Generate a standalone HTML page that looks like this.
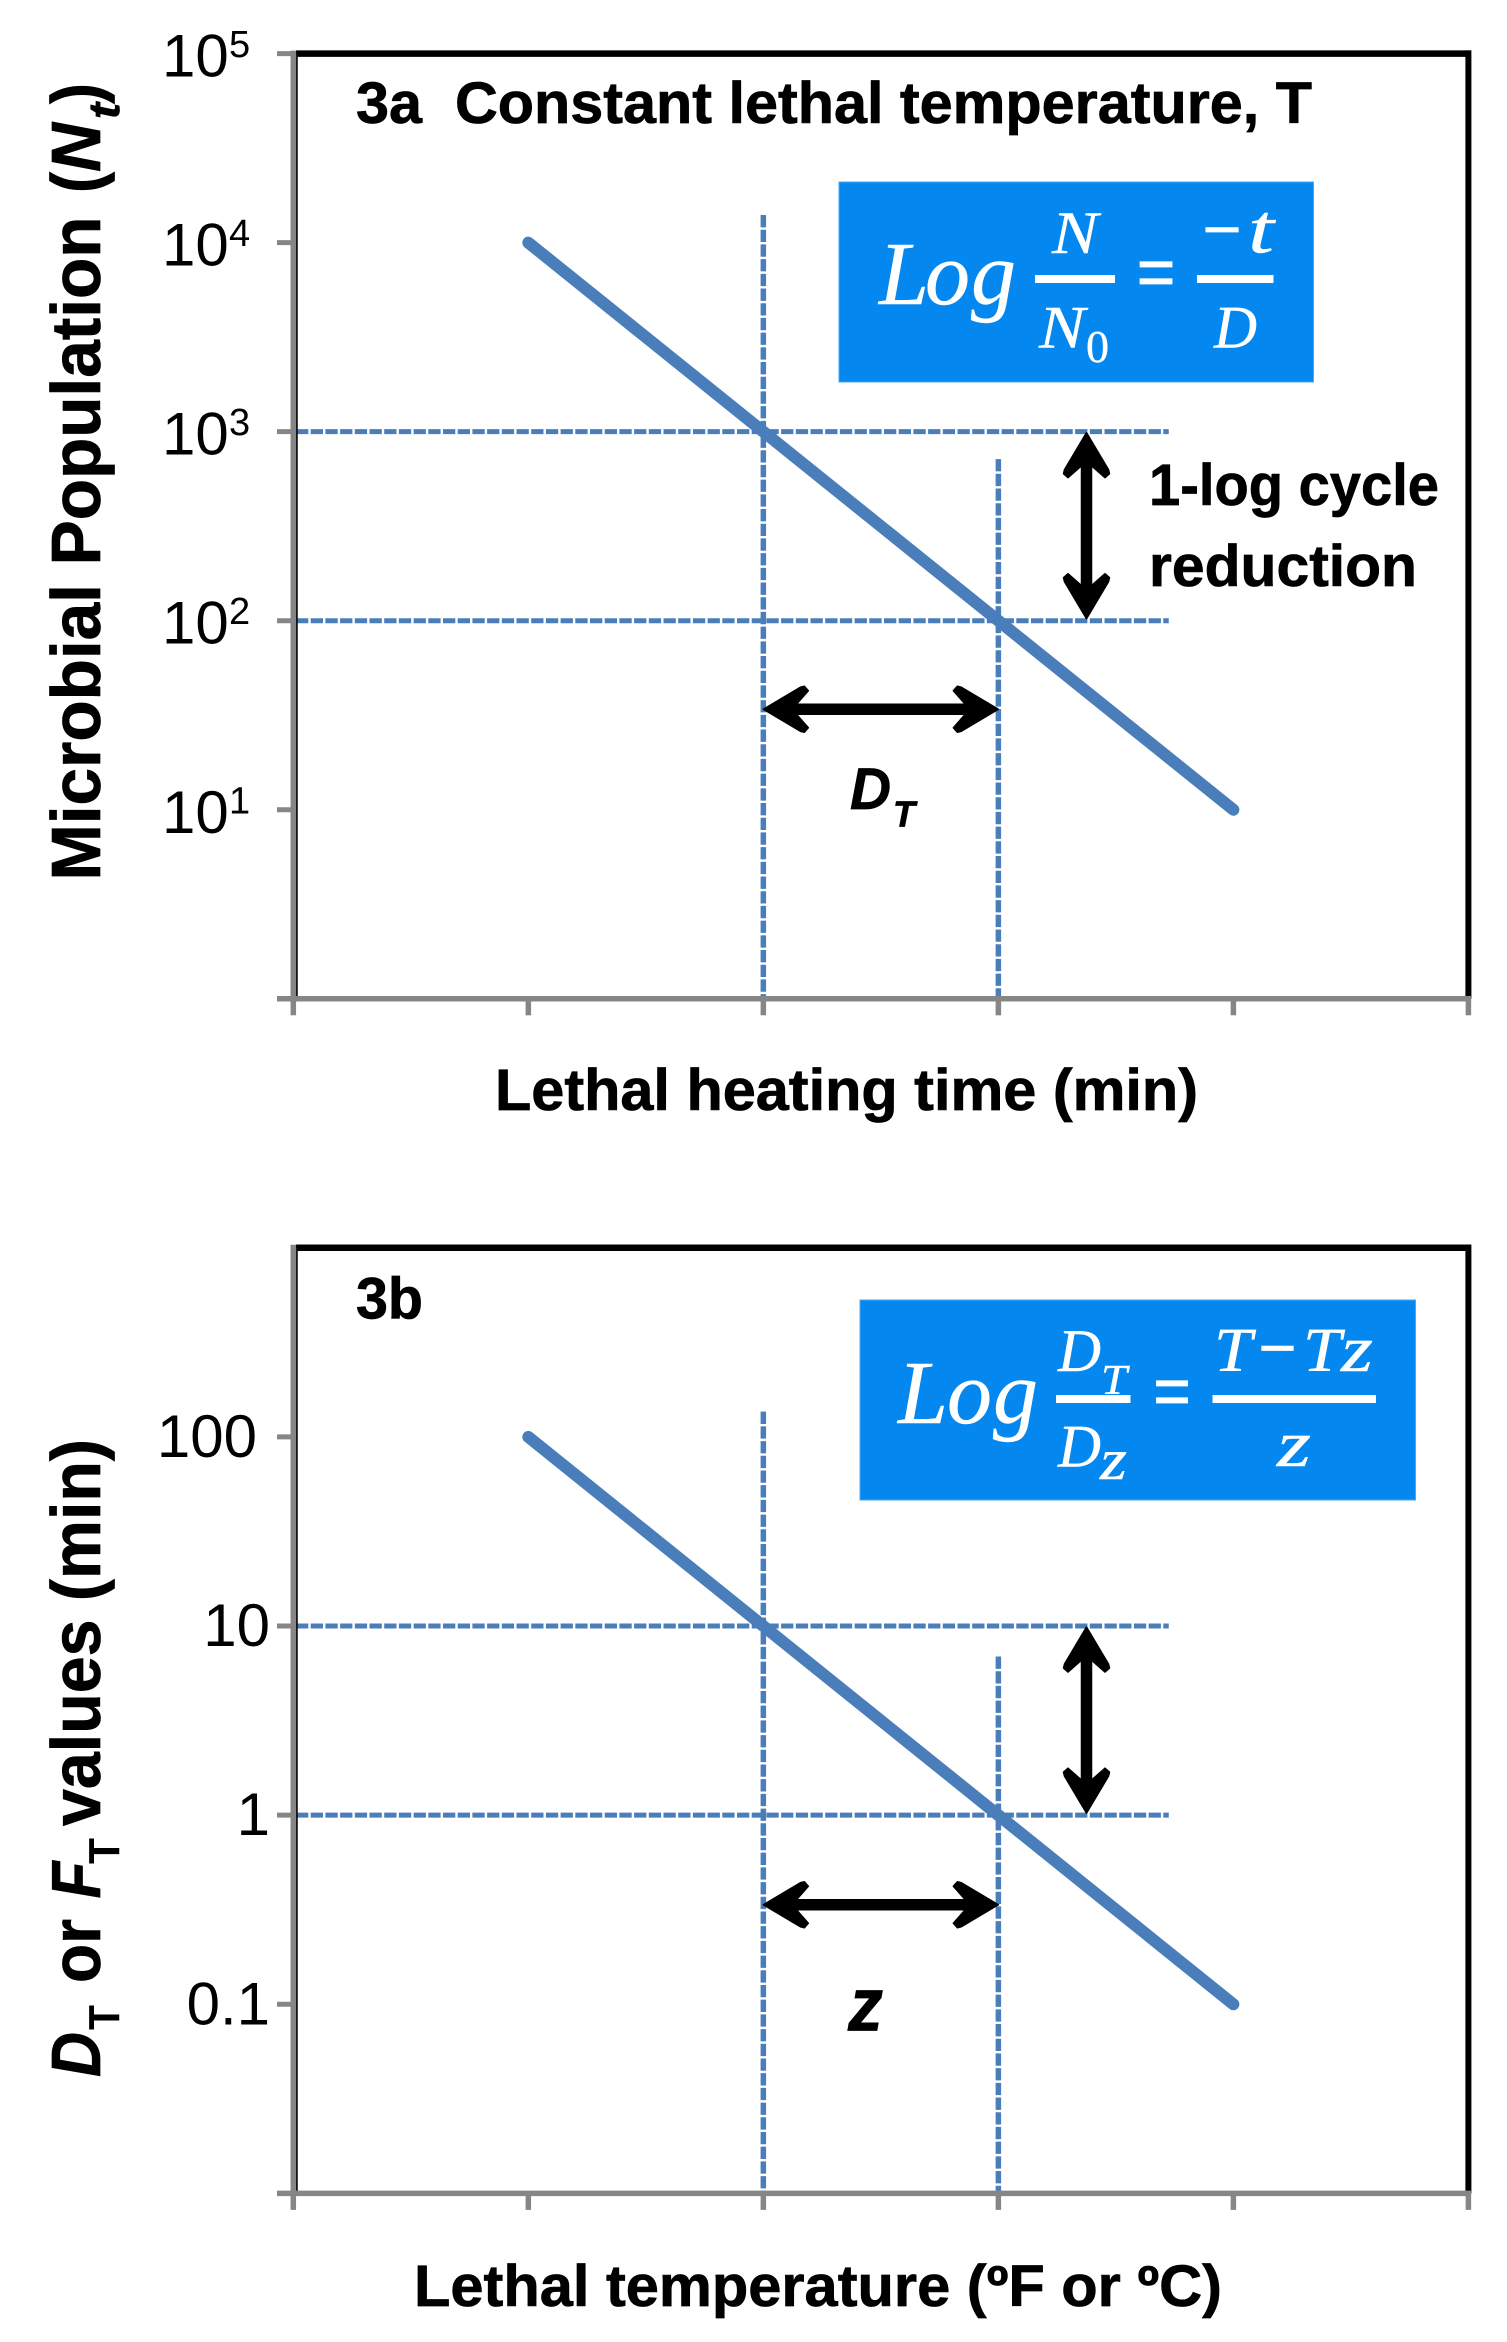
<!DOCTYPE html>
<html lang="en">
<head>
<meta charset="utf-8">
<title>Microbial thermal death time charts</title>
<style>
html,body{margin:0;padding:0;background:#fff;}
svg{display:block;}
.b{font-family:"Liberation Sans",sans-serif;font-weight:bold;fill:#000;stroke:#000;stroke-width:0.7;}
.bi{font-family:"Liberation Sans",sans-serif;font-weight:bold;font-style:italic;fill:#000;stroke:#000;stroke-width:0.7;}
.m{font-family:"Liberation Serif",serif;font-style:italic;fill:#fff;stroke:#fff;stroke-width:0.4;}
.mu{font-family:"Liberation Serif",serif;fill:#fff;stroke:#fff;stroke-width:0.4;}
.mo{font-family:"Liberation Serif",serif;fill:#fff;stroke:#fff;stroke-width:1.8;}
.t{font-family:"Liberation Sans",sans-serif;fill:#000;}
</style>
</head>
<body>
<svg id="chart" xmlns="http://www.w3.org/2000/svg" width="1507" height="2342" viewBox="0 0 1507 2342">
  <rect x="0" y="0" width="1507" height="2342" fill="#fff"/>
  <g id="panel-a"></g>
  <g id="panel-b"></g>

  <!-- Panel 3a text -->
  <text class="b" x="356" y="123" font-size="58" textLength="956" lengthAdjust="spacingAndGlyphs" xml:space="preserve">3a  Constant lethal temperature, T</text>
  <text class="b" x="1149" y="505" font-size="58" textLength="290" lengthAdjust="spacingAndGlyphs">1-log cycle</text>
  <text class="b" x="1149" y="586" font-size="58" textLength="268" lengthAdjust="spacingAndGlyphs">reduction</text>
  <text class="b" x="495" y="1110" font-size="58" textLength="703" lengthAdjust="spacingAndGlyphs">Lethal heating time (min)</text>
  <g transform="rotate(-90)">
    <text class="b" x="-880.5" y="100" font-size="70" textLength="664" lengthAdjust="spacingAndGlyphs">Microbial Population</text>
    <text class="b" x="-193" y="100" font-size="70" textLength="21" lengthAdjust="spacingAndGlyphs">(</text>
    <text class="bi" x="-172" y="100" font-size="70" textLength="49" lengthAdjust="spacingAndGlyphs">N</text>
    <text class="bi" x="-119" y="119" font-size="44" textLength="16" lengthAdjust="spacingAndGlyphs">t</text>
    <text class="b" x="-104" y="100" font-size="70" textLength="21" lengthAdjust="spacingAndGlyphs">)</text>
  </g>
  <text class="bi" x="850" y="809" font-size="58" textLength="41" lengthAdjust="spacingAndGlyphs">D</text>
  <text class="bi" x="893" y="826.5" font-size="36" textLength="22" lengthAdjust="spacingAndGlyphs">T</text>

  <g>
    <rect x="839" y="182" width="474.5" height="200" fill="#0487ef" stroke="#4aa8f5" stroke-width="1"/>
    <text class="m" x="879 925 971" y="304" font-size="90">Log</text>
    <text class="m" x="1052" y="253" font-size="60" textLength="46" lengthAdjust="spacingAndGlyphs">N</text>
    <rect x="1035" y="275" width="80" height="8" fill="#fff"/>
    <text class="m" x="1039" y="347.5" font-size="60" textLength="46" lengthAdjust="spacingAndGlyphs">N</text>
    <text class="mu" x="1086" y="362" font-size="45" textLength="23" lengthAdjust="spacingAndGlyphs">0</text>
    <text class="mo" x="1137" y="301" font-size="85" textLength="38" lengthAdjust="spacingAndGlyphs">=</text>
    <text class="mo" x="1203" y="252.5" font-size="68" textLength="38" lengthAdjust="spacingAndGlyphs">−</text>
    <text class="m" x="1248" y="252.5" font-size="70" textLength="26" lengthAdjust="spacingAndGlyphs">t</text>
    <rect x="1197" y="275" width="76.5" height="8" fill="#fff"/>
    <text class="m" x="1214" y="347.5" font-size="60" textLength="43" lengthAdjust="spacingAndGlyphs">D</text>
  </g>

  <!-- Panel 3b text -->
  <text class="b" x="356" y="1318.5" font-size="58" textLength="67" lengthAdjust="spacingAndGlyphs">3b</text>
  <text class="b" x="414" y="2306" font-size="58" textLength="808" lengthAdjust="spacingAndGlyphs">Lethal temperature (ºF or ºC)</text>
  <g transform="rotate(-90)">
    <text class="bi" x="-2077" y="100" font-size="70" textLength="45" lengthAdjust="spacingAndGlyphs">D</text>
    <text class="t" font-weight="bold" x="-2030" y="119" font-size="44" textLength="25" lengthAdjust="spacingAndGlyphs">T</text>
    <text class="b" x="-1983" y="100" font-size="70" textLength="64" lengthAdjust="spacingAndGlyphs">or</text>
    <text class="bi" x="-1898.5" y="100" font-size="70" textLength="37" lengthAdjust="spacingAndGlyphs">F</text>
    <text class="t" font-weight="bold" x="-1864" y="119" font-size="44" textLength="26" lengthAdjust="spacingAndGlyphs">T</text>
    <text class="b" x="-1826" y="100" font-size="70" textLength="387" lengthAdjust="spacingAndGlyphs">values (min)</text>
  </g>
  <text class="bi" x="848" y="2030.5" font-size="76" textLength="35" lengthAdjust="spacingAndGlyphs">z</text>

  <g>
    <rect x="860" y="1300" width="555.5" height="200" fill="#0487ef" stroke="#4aa8f5" stroke-width="1"/>
    <text class="m" x="898 947 993" y="1423" font-size="90">Log</text>
    <text class="m" x="1058" y="1371" font-size="60" textLength="43" lengthAdjust="spacingAndGlyphs">D</text>
    <text class="m" x="1101" y="1394" font-size="42" textLength="26" lengthAdjust="spacingAndGlyphs">T</text>
    <rect x="1056" y="1395" width="74.5" height="8" fill="#fff"/>
    <text class="m" x="1058" y="1466.5" font-size="60" textLength="43" lengthAdjust="spacingAndGlyphs">D</text>
    <text class="m" x="1100" y="1479" font-size="58" textLength="27" lengthAdjust="spacingAndGlyphs">z</text>
    <text class="mo" x="1153.5" y="1420" font-size="85" textLength="37" lengthAdjust="spacingAndGlyphs">=</text>
    <text class="m" x="1214" y="1371" font-size="62" textLength="38" lengthAdjust="spacingAndGlyphs">T</text>
    <text class="mo" x="1259" y="1371" font-size="68" textLength="37" lengthAdjust="spacingAndGlyphs">−</text>
    <text class="m" x="1303" y="1371" font-size="62" textLength="38" lengthAdjust="spacingAndGlyphs">T</text>
    <text class="m" x="1341" y="1371" font-size="66" textLength="32" lengthAdjust="spacingAndGlyphs">z</text>
    <rect x="1212.5" y="1395" width="163.5" height="8" fill="#fff"/>
    <text class="m" x="1277" y="1466" font-size="66" textLength="34" lengthAdjust="spacingAndGlyphs">z</text>
  </g>
</svg>

<script>
// ---------- chart data ----------
const xTickValues = [0, 1, 2, 3, 4, 5];
const seriesX = [1, 2, 3, 4];

const valuesA = [10000, 1000, 100, 10];
const tickValuesA = [100000, 10000, 1000, 100, 10];
const tickExponentsA = ['5', '4', '3', '2', '1'];
const guideHorizontalA = [1000, 100];
const guideVerticalXA = [2, 3];
const guideVerticalTopA = [14000, 716];
const doseArrowValueA = [34];

const valuesB = [100, 10, 1, 0.1];
const tickValuesB = [100, 10, 1, 0.1];
const tickLabelsB = ['100', '10', '1', '0.1'];
const guideHorizontalB = [10, 1];
const guideVerticalXB = [2, 3];
const guideVerticalTopB = [136, 6.9];
const doseArrowValueB = [0.336];

const guideEndX = [3.725];

// ---------- axis functions ----------
const svgNS = 'http://www.w3.org/2000/svg';
const plotLeft = 293.3, plotRight = 1468.4;
function xScale(v) { return plotLeft + (plotRight - plotLeft) * (v - 0) / 5; }
function yScaleA(v) { return 998.8 - (Math.log10(v) - 0) * (998.8 - 53.6) / 5; }
function yScaleB(v) { return 2193.4 - (Math.log10(v) + 2) * (2193.4 - 1247.8) / 5; }

function mk(parent, tag, attrs) {
  const el = document.createElementNS(svgNS, tag);
  for (const k in attrs) el.setAttribute(k, attrs[k]);
  parent.appendChild(el);
  return el;
}
function seg(parent, x1, y1, x2, y2, color, width, extra) {
  return mk(parent, 'line', Object.assign({ x1: x1, y1: y1, x2: x2, y2: y2, stroke: color, 'stroke-width': width }, extra || {}));
}
function headPoints(tx, ty, dx, dy) {
  const px = -dy, py = dx;
  const shape = [[0, 0], [37, 22], [41, 23], [45, 18.5], [34, 6], [34, -6], [45, -18.5], [41, -23], [37, -22]];
  return shape.map(function (s) { return (tx + dx * s[0] + px * s[1]) + ',' + (ty + dy * s[0] + py * s[1]); }).join(' ');
}
function drawArrow(parent, x1, y1, x2, y2, name) {
  const g = mk(parent, 'g', {});
  
  
  const len = Math.hypot(x2 - x1, y2 - y1), dx = (x2 - x1) / len, dy = (y2 - y1) / len;
  seg(g, x1 + dx * 30, y1 + dy * 30, x2 - dx * 30, y2 - dy * 30, '#000', 11.5);
  mk(g, 'polygon', { points: headPoints(x1, y1, dx, dy), fill: '#000', stroke: '#000', 'stroke-width': 1.5, 'stroke-linejoin': 'round' });
  mk(g, 'polygon', { points: headPoints(x2, y2, -dx, -dy), fill: '#000', stroke: '#000', 'stroke-width': 1.5, 'stroke-linejoin': 'round' });
}

function drawFrame(parent, top, bottom, suffix) {
  const spineTop = seg(parent, 296, top, 1471, top, '#000', 6.5);
  
  
  const spineRight = seg(parent, 1468.4, top - 3.2, 1468.4, bottom, '#000', 6);
  
  
  seg(parent, 296.8, top, 296.8, bottom, '#111', 2);
  const axisY = seg(parent, plotLeft, top - 3, plotLeft, bottom + 2, '#868686', 5.5);
  
  
  const axisX = seg(parent, 277, bottom, 1471, bottom, '#868686', 5.5);
  
  
  xTickValues.forEach(function (v) {
    const t = seg(parent, xScale(v), bottom, xScale(v), bottom + 16.5, '#868686', 5.5);
    
    
  });
}
function drawYTicks(parent, ticks, scale, suffix) {
  ticks.forEach(function (v) {
    const t = seg(parent, 277, scale(v), plotLeft, scale(v), '#868686', 5);
    
    
  });
}
function drawGuides(parent, hVals, vXs, vTops, scale, bottom, suffix) {
  const dash = { 'stroke-dasharray': '12.3 2.4' };
  hVals.forEach(function (v) {
    const l = seg(parent, 296, scale(v), xScale(guideEndX[0]), scale(v), '#4a7ebb', 5, dash);
    
    
  });
  vXs.forEach(function (xv, i) {
    const l = seg(parent, xScale(xv), scale(vTops[i]), xScale(xv), bottom, '#4a7ebb', 5.5, dash);
    
    
  });
}
function drawSeries(parent, values, scale, suffix) {
  const pts = seriesX.map(function (x, i) { return xScale(x) + ',' + scale(values[i]); }).join(' ');
  const line = mk(parent, 'polyline', { points: pts, fill: 'none', stroke: '#4a7ebb', 'stroke-width': 12, 'stroke-linecap': 'round', 'stroke-linejoin': 'round' });
  
  
}

// ---------- panel 3a ----------
const pa = document.getElementById('panel-a');
drawGuides(pa, guideHorizontalA, guideVerticalXA, guideVerticalTopA, yScaleA, 998.8, '3a');
drawFrame(pa, 53.6, 998.8, '3a');
drawYTicks(pa, tickValuesA, yScaleA, '3a');
drawSeries(pa, valuesA, yScaleA, '3a');
drawArrow(pa, 1086.5, yScaleA(guideHorizontalA[0]) + 1, 1086.5, yScaleA(guideHorizontalA[1]) - 2, 'log-cycle-arrow-3a');
drawArrow(pa, xScale(2), yScaleA(doseArrowValueA[0]), xScale(3), yScaleA(doseArrowValueA[0]), 'd-value-arrow');
tickValuesA.forEach(function (v, i) {
  const base = mk(pa, 'text', { x: 162, y: yScaleA(v) + 23, 'font-size': 60, class: 't' });
  
  
  base.textContent = '10';
  const sup = mk(pa, 'text', { x: 229, y: yScaleA(v) + 3.5, 'font-size': 38, class: 't' });
  
  
  sup.textContent = tickExponentsA[i];
});

// ---------- panel 3b ----------
const pb = document.getElementById('panel-b');
drawGuides(pb, guideHorizontalB, guideVerticalXB, guideVerticalTopB, yScaleB, 2193.4, '3b');
drawFrame(pb, 1247.8, 2193.4, '3b');
drawYTicks(pb, tickValuesB, yScaleB, '3b');
drawSeries(pb, valuesB, yScaleB, '3b');
drawArrow(pb, 1086.5, yScaleB(guideHorizontalB[0]) + 1, 1086.5, yScaleB(guideHorizontalB[1]) - 2, 'log-cycle-arrow-3b');
drawArrow(pb, xScale(2), yScaleB(doseArrowValueB[0]), xScale(3), yScaleB(doseArrowValueB[0]), 'z-value-arrow');
tickValuesB.forEach(function (v, i) {
  const right = tickLabelsB[i] === '100' ? 257 : 270;
  const label = mk(pb, 'text', { x: right, y: yScaleB(v) + 20, 'font-size': 60, 'text-anchor': 'end', class: 't' });
  
  
  label.textContent = tickLabelsB[i];
});
</script>
</body>
</html>
